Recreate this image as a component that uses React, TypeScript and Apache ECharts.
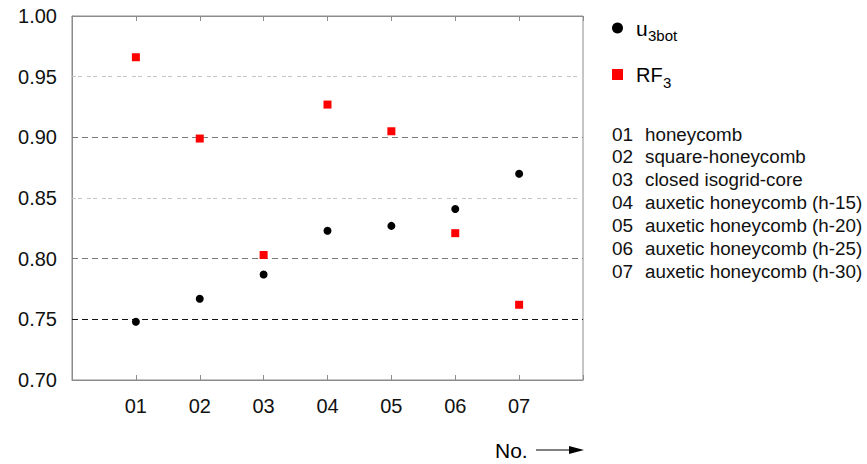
import React, { useEffect, useRef } from "react";
import * as echarts from "echarts";

const categories = ["01", "02", "03", "04", "05", "06", "07"];
const u3bot = [0.748, 0.767, 0.787, 0.823, 0.827, 0.841, 0.87];
const rf3 = [0.966, 0.899, 0.803, 0.927, 0.905, 0.821, 0.762];
const yMin = 0.7;
const yMax = 1.0;
const yStep = 0.05;
const gridValues = [0.95, 0.9, 0.85, 0.8, 0.75];
const materials = [
  "honeycomb",
  "square-honeycomb",
  "closed isogrid-core",
  "auxetic honeycomb (h-15)",
  "auxetic honeycomb (h-20)",
  "auxetic honeycomb (h-25)",
  "auxetic honeycomb (h-30)",
];

const FONT = "'Liberation Sans', Arial, sans-serif";

export default function App() {
  const ref = useRef<HTMLDivElement>(null);
  useEffect(() => {
    document.body.style.margin = "0";
    const chart = echarts.init(ref.current!, null, { renderer: "svg" });

    const lineStyles: any[] = [
      { color: "#c4c4c4", type: [4, 2, 4, 5], width: 1 },
      { color: "#7a7a7a", type: [6, 4], width: 1 },
      { color: "#c4c4c4", type: [4, 2, 4, 5], width: 1 },
      { color: "#7a7a7a", type: [6, 4], width: 1 },
      { color: "#111111", type: [6, 4], width: 1 },
    ];

    const graphics: any[] = [
      { type: "circle", shape: { cx: 617.5, cy: 28, r: 5.5 }, style: { fill: "#000" } },
      { type: "text", x: 636, y: 28, style: { text: "u", fontSize: 21, fontFamily: FONT, fill: "#000", verticalAlign: "middle" } },
      { type: "text", x: 648, y: 35, style: { text: "3bot", fontSize: 15, fontFamily: FONT, fill: "#000", verticalAlign: "middle" } },
      { type: "rect", shape: { x: 612, y: 69, width: 11, height: 11 }, style: { fill: "#ff0000" } },
      { type: "text", x: 636, y: 75, style: { text: "RF", fontSize: 20, fontFamily: FONT, fill: "#000", verticalAlign: "middle" } },
      { type: "text", x: 663, y: 82, style: { text: "3", fontSize: 15, fontFamily: FONT, fill: "#000", verticalAlign: "middle" } },
      { type: "text", x: 495, y: 450, style: { text: "No.", fontSize: 21, fontFamily: FONT, fill: "#000", verticalAlign: "middle" } },
      { type: "line", shape: { x1: 536, y1: 450, x2: 572, y2: 450 }, style: { stroke: "#000", lineWidth: 1 } },
      { type: "polygon", shape: { points: [[569, 446], [584, 450], [569, 454]] }, style: { fill: "#000" } },
    ];
    categories.forEach((c, i) => {
      const y = 134 + i * 22.9;
      graphics.push({ type: "text", x: 612, y, style: { text: c, fontSize: 19, fontFamily: FONT, fill: "#111", verticalAlign: "middle" } });
      graphics.push({ type: "text", x: 645, y, style: { text: materials[i], fontSize: 18.8, fontFamily: FONT, fill: "#111", verticalAlign: "middle" } });
    });

    const xAxisCommon = {
      type: "value",
      min: 0,
      max: categories.length + 1,
      interval: 1,
      splitLine: { show: false },
      axisLine: { show: true, lineStyle: { color: "#8c8c8c", width: 1 } },
      axisTick: { show: true, inside: true, length: 5, lineStyle: { color: "#8c8c8c" } },
    };

    chart.setOption({
      animation: false,
      backgroundColor: "#fff",
      grid: { left: 72, top: 16, width: 511, height: 364, show: true, borderColor: "#8c8c8c", borderWidth: 1, containLabel: false },
      xAxis: [
        {
          ...xAxisCommon,
          position: "bottom",
          axisLabel: {
            show: true,
            margin: 16,
            fontSize: 20,
            fontFamily: FONT,
            color: "#111",
            formatter: (v: number) => (v >= 1 && v <= categories.length ? categories[v - 1] : ""),
          },
        },
        { ...xAxisCommon, position: "top", axisLabel: { show: false } },
      ],
      yAxis: {
        type: "value",
        min: yMin,
        max: yMax,
        interval: yStep,
        splitLine: { show: false },
        axisLine: { show: true, lineStyle: { color: "#8c8c8c", width: 1 } },
        axisTick: { show: false },
        axisLabel: { margin: 15, fontSize: 20, fontFamily: FONT, color: "#111", formatter: (v: number) => v.toFixed(2) },
      },
      series: [
        {
          type: "scatter",
          name: "RF3",
          data: rf3.map((v, i) => [i + 1, v]),
          symbol: "rect",
          symbolSize: 8,
          itemStyle: { color: "#ff0000", opacity: 1 },
          z: 5,
          markLine: {
            silent: true,
            symbol: "none",
            label: { show: false },
            z: 1,
            data: gridValues.map((v, i) => ({ yAxis: v, lineStyle: lineStyles[i] })),
          },
        },
        {
          type: "scatter",
          name: "u3bot",
          data: u3bot.map((v, i) => [i + 1, v]),
          symbol: "circle",
          symbolSize: 8,
          itemStyle: { color: "#000", opacity: 1 },
          z: 5,
        },
      ],
      graphic: graphics,
    });
    return () => chart.dispose();
  }, []);
  return <div ref={ref} style={{ width: 867, height: 464 }} />;
}
